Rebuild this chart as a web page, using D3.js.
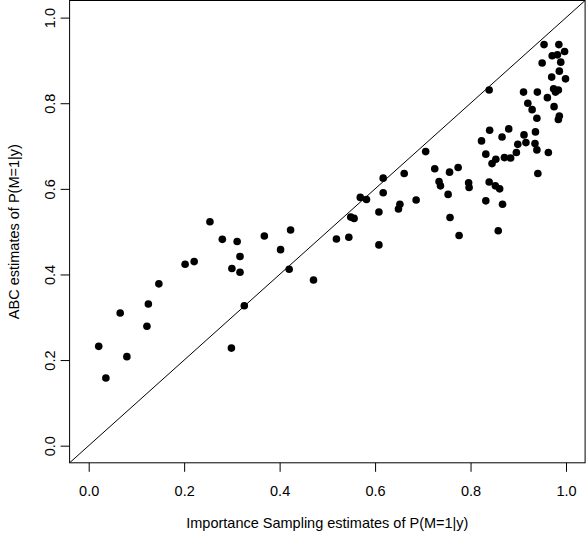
<!DOCTYPE html>
<html>
<head>
<meta charset="utf-8">
<script src="https://cdn.jsdelivr.net/npm/d3@7"></script>
<style>
  body { margin: 0; background: #fff; }
  text { font-family: "Liberation Sans", Arial, sans-serif; }
</style>
</head>
<body>
<script>
// importance sampling estimates (x) and ABC estimates (y)
var isEst = [0.021, 0.036, 0.066, 0.080, 0.122, 0.125, 0.147, 0.202, 0.221, 0.254,
  0.280, 0.311, 0.300, 0.317, 0.317, 0.326, 0.299, 0.368, 0.423, 0.402,
  0.420, 0.471, 0.519, 0.545, 0.549, 0.556, 0.569, 0.582, 0.608, 0.608,
  0.617, 0.617, 0.649, 0.652, 0.661, 0.686, 0.706, 0.725, 0.734, 0.737,
  0.753, 0.756, 0.757, 0.774, 0.776, 0.796, 0.797, 0.823, 0.832, 0.832,
  0.839, 0.852, 0.861, 0.839, 0.840, 0.845, 0.853, 0.866, 0.867, 0.858,
  0.871, 0.880, 0.884, 0.896, 0.899, 0.912, 0.916, 0.911, 0.920, 0.929,
  0.936, 0.935, 0.939, 0.940, 0.939, 0.941, 0.950, 0.954, 0.961, 0.963,
  0.970, 0.971, 0.974, 0.975, 0.978, 0.982, 0.984, 0.984, 0.986, 0.985,
  0.986, 0.989, 0.997, 0.999];
var abcEst = [0.232, 0.158, 0.310, 0.208, 0.279, 0.331, 0.378, 0.424, 0.430, 0.523,
  0.482, 0.477, 0.414, 0.442, 0.405, 0.327, 0.228, 0.490, 0.504, 0.458,
  0.412, 0.387, 0.483, 0.487, 0.534, 0.531, 0.580, 0.575, 0.546, 0.469,
  0.625, 0.591, 0.553, 0.564, 0.636, 0.574, 0.687, 0.647, 0.617, 0.607,
  0.587, 0.639, 0.533, 0.650, 0.491, 0.614, 0.603, 0.712, 0.681, 0.572,
  0.616, 0.607, 0.600, 0.831, 0.737, 0.659, 0.669, 0.721, 0.564, 0.502,
  0.673, 0.740, 0.672, 0.685, 0.704, 0.726, 0.708, 0.826, 0.800, 0.785,
  0.733, 0.706, 0.691, 0.826, 0.765, 0.636, 0.894, 0.937, 0.813, 0.685,
  0.861, 0.911, 0.834, 0.792, 0.826, 0.913, 0.831, 0.762, 0.770, 0.937,
  0.875, 0.896, 0.921, 0.857];
var tickVals = [0, 0.2, 0.4, 0.6, 0.8, 1.0];
var xTitle = "Importance Sampling estimates of P(M=1|y)";
var yTitle = "ABC estimates of P(M=1|y)";

var W = 586, H = 536;
var box = {left: 69.6, right: 585.1, top: 0.5, bottom: 462.8};

var svg = d3.select("body").append("svg")
    .attr("width", W)
    .attr("height", H);

// R style: 4% padding around [0,1]
var x = d3.scaleLinear().domain([-0.04, 1.04]).range([box.left, box.right]);
var y = d3.scaleLinear().domain([-0.04, 1.04]).range([box.bottom, box.top]);

svg.append("clipPath").attr("id", "clip")
  .append("rect")
    .attr("x", box.left).attr("y", box.top)
    .attr("width", box.right - box.left).attr("height", box.bottom - box.top);

// y = x line
svg.append("line")
    .attr("clip-path", "url(#clip)")
    .attr("x1", x(-0.04)).attr("y1", y(-0.04))
    .attr("x2", x(1.04)).attr("y2", y(1.04))
    .attr("stroke", "#000")
    .attr("stroke-width", 1);

// points
svg.append("g").selectAll("circle")
    .data(isEst.map(function(d, i) { return [d, abcEst[i]]; }))
    .enter().append("circle")
    .attr("cx", function(d) { return x(d[0]); })
    .attr("cy", function(d) { return y(d[1]); })
    .attr("r", 3.8)
    .attr("fill", "#000");

// axes
var xAxis = d3.axisBottom(x).tickValues(tickVals).tickSize(9).tickFormat(d3.format(".1f"));
var yAxis = d3.axisLeft(y).tickValues(tickVals).tickSize(9).tickFormat(d3.format(".1f"));

var gx = svg.append("g")
    .attr("transform", "translate(0," + box.bottom + ")")
    .call(xAxis);
gx.select(".domain").remove();
gx.selectAll("text")
    .attr("y", 33.5).attr("dy", 0)
    .attr("font-size", 14.5).attr("font-family", "Liberation Sans, Arial, sans-serif")
    .attr("fill", "#000");

var gy = svg.append("g")
    .attr("transform", "translate(" + box.left + ",0)")
    .call(yAxis);
gy.select(".domain").remove();
gy.selectAll("text")
    .attr("x", 0).attr("y", 0).attr("dy", 0)
    .attr("text-anchor", "middle")
    .attr("transform", "translate(-15,0) rotate(-90)")
    .attr("font-size", 14.5).attr("font-family", "Liberation Sans, Arial, sans-serif")
    .attr("fill", "#000");

// frame
svg.append("rect")
    .attr("x", box.left).attr("y", box.top)
    .attr("width", box.right - box.left).attr("height", box.bottom - box.top)
    .attr("fill", "none")
    .attr("stroke", "#000")
    .attr("stroke-width", 1);

// titles
svg.append("text")
    .attr("x", (box.left + box.right) / 2)
    .attr("y", 528)
    .attr("text-anchor", "middle")
    .attr("font-size", 14.5)
    .text(xTitle);

svg.append("text")
    .attr("transform", "translate(19," + (box.top + box.bottom) / 2 + ") rotate(-90)")
    .attr("text-anchor", "middle")
    .attr("font-size", 14.5)
    .text(yTitle);
</script>
</body>
</html>
